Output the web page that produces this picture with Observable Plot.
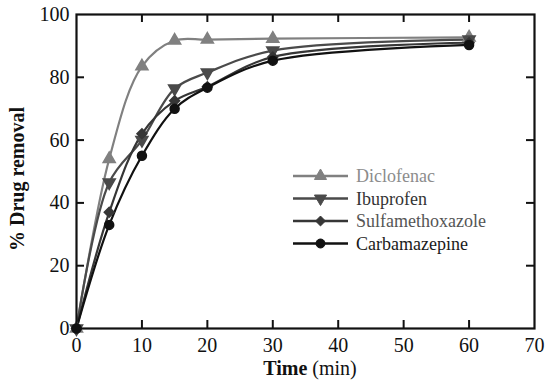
<!DOCTYPE html>
<html><head><meta charset="utf-8">
<script src="https://cdn.jsdelivr.net/npm/d3@7"></script>
<script src="https://cdn.jsdelivr.net/npm/@observablehq/plot@0.6"></script>
<style>
body{margin:0;background:#fff;}
#chart{position:relative;width:550px;height:391px;}
#chart svg{display:block;}
#chart svg, #chart svg text, #chart svg tspan{font-family:"Liberation Serif","Times New Roman",Tinos,"DejaVu Serif",serif !important;}
</style></head><body><div id="chart"></div>
<script>
const times = [0, 5, 10, 15, 20, 30, 60];
const drugs = ["Diclofenac", "Ibuprofen", "Sulfamethoxazole", "Carbamazepine"];
const diclofenac = [0, 54, 83.5, 91.7, 92, 92.3, 92.7];
const ibuprofen = [0, 46.5, 60, 76.4, 81.5, 88.5, 92];
const sulfamethoxazole = [0, 37, 62, 72.5, 77, 86.5, 91];
const carbamazepine = [0, 33, 55, 70, 76.7, 85.3, 90.3];
const xTickLabels = [0, 10, 20, 30, 40, 50, 60, 70];
const yTickLabels = [0, 20, 40, 60, 80, 100];
const xLabel = ["Time", " (min)"];
const yLabel = "% Drug removal";

const seriesValues = [diclofenac, ibuprofen, sulfamethoxazole, carbamazepine];
const lineColors = ["#808080", "#4a4a4a", "#363636", "#111111"];
const textColors = ["#8c8c8c", "#333333", "#555555", "#1a1a1a"];

const invTriangle = {
  draw(context, size) {
    const y = -Math.sqrt(size / (Math.sqrt(3) * 3));
    context.moveTo(0, -y * 2);
    context.lineTo(-Math.sqrt(3) * y, y);
    context.lineTo(Math.sqrt(3) * y, y);
    context.closePath();
  }
};
const diamond2 = {
  draw(context, size) {
    const r = Math.sqrt(size) * 0.62;
    context.moveTo(0, -r); context.lineTo(r, 0); context.lineTo(0, r); context.lineTo(-r, 0); context.closePath();
  }
};
const symbolRange = [d3.symbolTriangle, invTriangle, diamond2, d3.symbolCircle];

const rows = drugs.flatMap((drug, i) => times.map((t, j) => ({drug, t, v: seriesValues[i][j]})));

const W = 550, H = 391, mL = 76, mR = 16, mT = 14, mB = 63;
const innerW = W - mL - mR, innerH = H - mT - mB;
const xInner = xTickLabels.slice(1, -1), yInner = yTickLabels.slice(1, -1);

const plot = Plot.plot({
  width: W, height: H,
  marginLeft: mL, marginRight: mR, marginTop: mT, marginBottom: mB,
  style: {fontSize: "20px", color: "#111", background: "white"},
  x: {domain: [0, 70]},
  y: {domain: [0, 100]},
  color: {domain: drugs, range: lineColors},
  symbol: {domain: drugs, range: symbolRange},
  marks: [
    Plot.axisX(xTickLabels, {tickSize: 0, tickPadding: 9, label: null, fontSize: 20}),
    Plot.axisY(yTickLabels, {tickSize: 0, tickPadding: 7, label: null, fontSize: 20}),
    Plot.ruleX(xInner, {x: d => d, insetTop: innerH - 8, stroke: "#111", strokeWidth: 2}),
    Plot.ruleX(xInner, {x: d => d, insetBottom: innerH - 8, stroke: "#111", strokeWidth: 2}),
    Plot.ruleY(yInner, {y: d => d, insetRight: innerW - 8, stroke: "#111", strokeWidth: 2}),
    Plot.ruleY(yInner, {y: d => d, insetLeft: innerW - 8, stroke: "#111", strokeWidth: 2}),
    Plot.line(rows, {x: "t", y: "v", z: "drug", stroke: "drug", curve: "catmull-rom", strokeWidth: 2.2}),
    Plot.dot(rows, {x: "t", y: "v", fill: "drug", stroke: "drug", symbol: "drug", r: 4.5}),
    Plot.frame({stroke: "#111", strokeWidth: 2.2})
  ]
});
document.getElementById("chart").appendChild(plot);

const svg = d3.select(plot);
const xt = svg.append("text")
  .attr("x", mL + innerW / 2 + 5).attr("y", H - 16)
  .attr("text-anchor", "middle")
  .style("font-size", "20px").attr("fill", "#111");
xt.append("tspan").style("font-weight", "bold").text(xLabel[0]);
xt.append("tspan").text(xLabel[1]);
svg.append("text")
  .attr("transform", `translate(24,${mT + innerH / 2 + 8}) rotate(-90)`)
  .attr("text-anchor", "middle")
  .style("font-size", "20px").style("font-weight", "bold")
  .attr("fill", "#111").text(yLabel);

const lg = svg.append("g").attr("transform", "translate(293,176)");
drugs.forEach((d, i) => {
  const g = lg.append("g").attr("transform", `translate(0,${i * 22.5})`);
  g.append("line").attr("x1", 0).attr("x2", 55).attr("y1", 0).attr("y2", 0)
    .attr("stroke", lineColors[i]).attr("stroke-width", 2.5);
  g.append("path").attr("transform", "translate(27.5,0)")
    .attr("d", d3.symbol(symbolRange[i], 4.5 * 4.5 * Math.PI)())
    .attr("fill", lineColors[i]).attr("stroke", lineColors[i]);
  g.append("text").attr("x", 63).attr("y", 6).attr("text-anchor", "start")
    .style("font-size", "18px")
    .attr("fill", textColors[i]).text(d);
});
</script></body></html>
